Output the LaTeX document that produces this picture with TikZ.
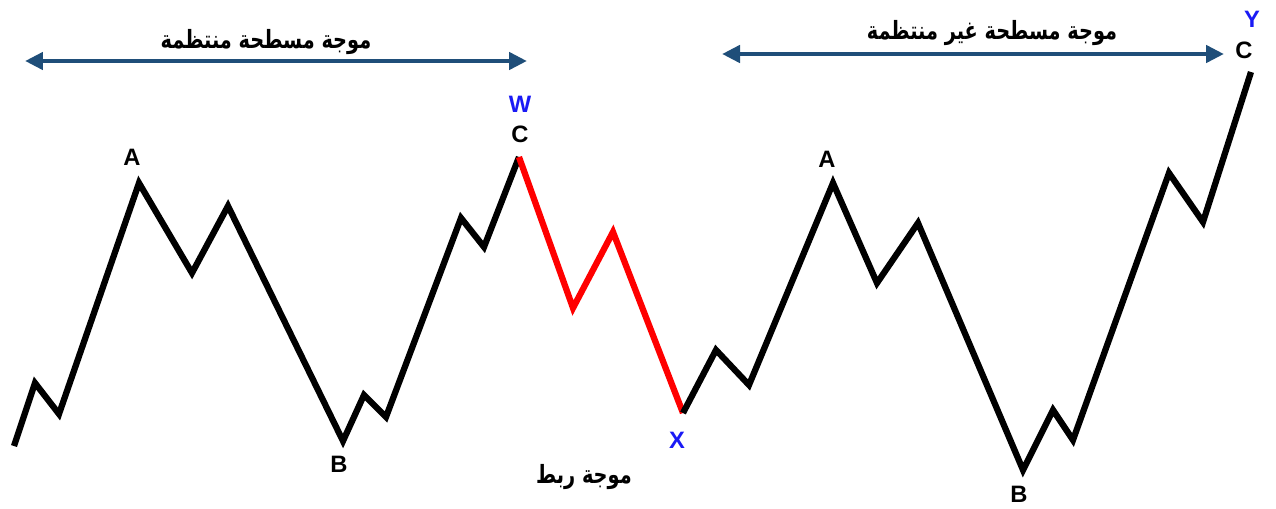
\documentclass[tikz,border=0pt]{standalone}
\usepackage{fontspec}
\setmainfont{Liberation Sans}
\newfontfamily\arabicfont[Script=Arabic]{DejaVu Sans}
\TeXXeTstate=1
\usetikzlibrary{arrows.meta}
\definecolor{spanblue}{HTML}{1F4E79}
\definecolor{tagblue}{HTML}{1A1AF5}
\tikzset{
  wave/.style={line width=0.125cm,line join=miter,black},
  link/.style={wave,red},
  span/.style={{Triangle[length=0.36cm,width=0.34cm]}-{Triangle[length=0.36cm,width=0.34cm]},
               line width=0.09cm,spanblue},
  lbl/.style={font=\bfseries\fontsize{13.5}{14}\selectfont,inner sep=0pt},
  tag/.style={lbl,text=tagblue},
  artxt/.style={font=\arabicfont\bfseries\fontsize{11}{12}\selectfont,inner sep=0pt},
}
\newcommand\artall[1]{\scalebox{1}[1.3]{\beginR #1\endR}}

\begin{document}
\begin{tikzpicture}[x=0.02cm,y=-0.02cm]
  \useasboundingbox (0,0) rectangle (1276,508);
  % turning points of the two flats and the link
  \foreach \n/\x/\y in {s0/14/446, s1/35/383, s2/59/414, a1/139/183, s4/192/273,
      s5/228/206, b1/343/441, s7/364/395, s8/386/417, s9/461/218, s10/484/247,
      w/519/157, r1/573/308, r2/613/232, x/683/413, t1/716/350, t2/749/385,
      a2/833/183, t4/877/283, t5/918/223, b2/1023/470, t7/1053/410, t8/1073/440,
      t9/1169/173, t10/1203/222, y/1251/72}
    \coordinate (\n) at (\x,\y);
  \draw[wave] (s0) -- (s1) -- (s2) -- (a1) -- (s4) -- (s5) -- (b1) -- (s7) -- (s8)
    -- (s9) -- (s10) -- (w);
  \draw[link] (w) -- (r1) -- (r2) -- (x);
  \draw[wave] (x) -- (t1) -- (t2) -- (a2) -- (t4) -- (t5) -- (b2) -- (t7) -- (t8)
    -- (t9) -- (t10) -- (y);
  % letters
  \node[lbl] (lA1) at (132,157) {A};
  \node[lbl] (lB1) at (339,464) {B};
  \node[tag] (lW) at (520,104) {W};
  \node[lbl] (lC1) at (520,134) {C};
  \node[tag] (lX) at (677,440) {X};
  \node[lbl] (lA2) at (827,159) {A};
  \node[lbl] (lB2) at (1019,494) {B};
  \node[tag] (lY) at (1252,19) {Y};
  \node[lbl] (lC2) at (1244,50) {C};
  % spans
  \coordinate (la) at (25,61);
  \coordinate (lb) at (527,61);
  \coordinate (ra) at (722,54);
  \coordinate (rb) at (1224,54);
  \draw[span] (la) -- (lb);
  \draw[span] (ra) -- (rb);
  \node[artxt] (flatreg) at (266,42) {\artall{موجة مسطحة منتظمة}};
  \node[artxt] (flatirr) at (992,33) {\artall{موجة مسطحة غير منتظمة}};
  \node[artxt] (linkwave) at (584,477) {\artall{موجة ربط}};
\end{tikzpicture}
\end{document}
